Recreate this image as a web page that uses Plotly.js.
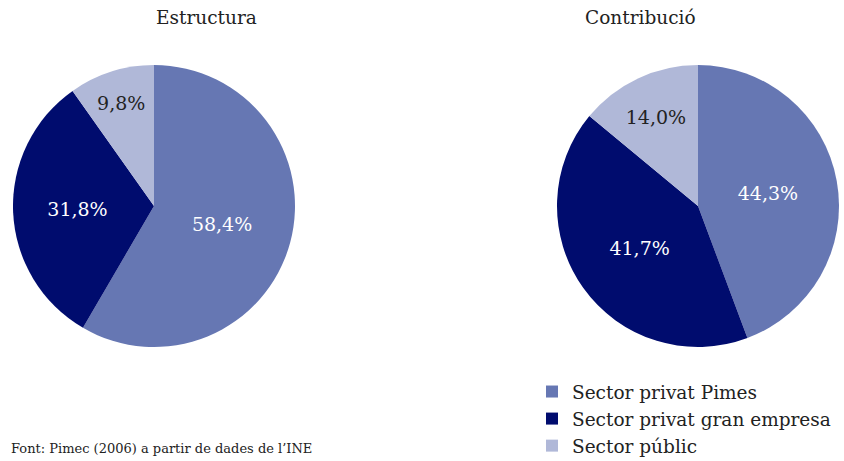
<!DOCTYPE html>
<html><head><meta charset="utf-8">
<script src="https://cdn.plot.ly/plotly-3.0.1.min.js"></script>
<style>html,body{margin:0;padding:0;background:#fff}</style>
</head><body>
<div id="chart" style="width:844px;height:461px"></div>
<script>
var categories = ["Sector privat Pimes", "Sector privat gran empresa", "Sector públic"];
var estructura = [58.4, 31.8, 9.8];
var contribucio = [44.3, 41.7, 14.0];
var titles = ["Estructura", "Contribució"];
var sourceText = "Font: Pimec (2006) a partir de dades de l’INE";

var colors = ["#6677b3", "#000c6e", "#b0b8d8"];
var textColors = ["#ffffff", "#ffffff", "#222222"];
var W = 844, H = 461;
var font = "DejaVu Serif, Liberation Serif, serif";

function dom(cx, cy, r) {
  return {x: [(cx - r) / W, (cx + r) / W], y: [(H - cy - r) / H, (H - cy + r) / H]};
}

function pie(vals, d, showlegend) {
  return {
    type: "pie", labels: categories, values: vals, sort: false,
    direction: "clockwise", rotation: 0, domain: d,
    marker: {colors: colors, line: {width: 0}},
    textinfo: "text", texttemplate: "%{value:.1f}%", textposition: "inside",
    insidetextorientation: "horizontal",
    insidetextfont: {family: font, size: 19, color: textColors},
    hoverinfo: "label+value", showlegend: showlegend
  };
}

var data = [
  pie(estructura, dom(154, 206, 141), true),
  pie(contribucio, dom(698, 206, 141), false)
];

var layout = {
  width: W, height: H, margin: {l: 0, r: 0, t: 0, b: 0, autoexpand: false},
  paper_bgcolor: "#fff", separators: ",.",
  font: {family: font, color: "#222"},
  showlegend: true,
  legend: {x: 532 / W, xanchor: "left", y: (H - 373) / H, yanchor: "top",
           font: {family: font, size: 18.5, color: "#222"}, traceorder: "normal",
           bgcolor: "rgba(0,0,0,0)"},
  annotations: [
    {text: titles[0], x: 154 / W, y: (H - 17) / H, xref: "paper", yref: "paper", yanchor: "middle",
     showarrow: false, font: {family: font, size: 18.5, color: "#222"}},
    {text: titles[1], x: 698 / W, y: (H - 17) / H, xref: "paper", yref: "paper", yanchor: "middle",
     showarrow: false, font: {family: font, size: 18.5, color: "#222"}},
    {text: sourceText, x: 9 / W, xanchor: "left", y: (H - 448) / H, yanchor: "middle", xref: "paper", yref: "paper",
     showarrow: false, font: {family: font, size: 13, color: "#222"}}
  ]
};

Plotly.newPlot("chart", data, layout, {displayModeBar: false, staticPlot: true});
</script>
</body></html>
